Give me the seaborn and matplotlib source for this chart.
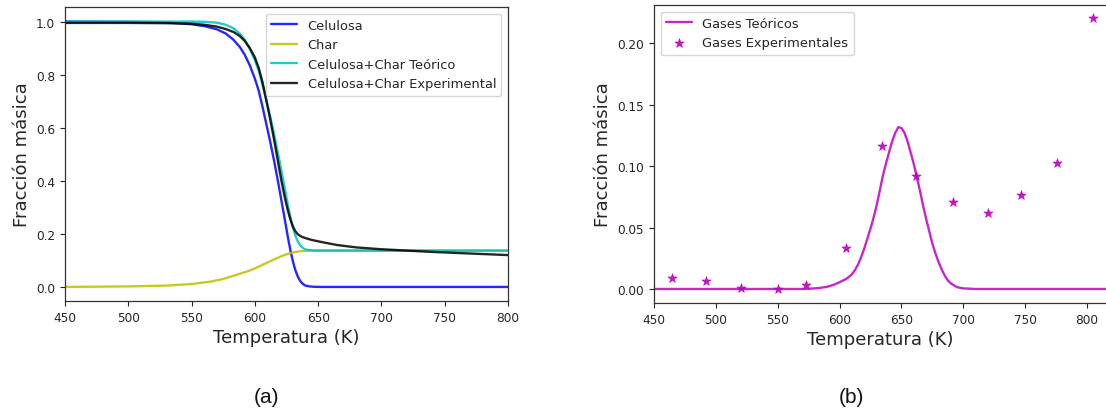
import matplotlib
matplotlib.use("Agg")
import matplotlib.pyplot as plt
import seaborn as sns

sns.set_theme(style="ticks")
plt.rcParams['font.family'] = ['DejaVu Sans']

# ---------------- data ----------------
# Panel (a)
T_cel = [450, 500, 530, 550, 560, 570, 577, 583, 588, 592, 596, 600, 603, 606, 609,
         612, 615, 618, 621, 624, 626, 628, 630, 632, 634, 636, 638, 640, 643, 647,
         652, 800]
celulosa = [1.0, 0.999, 0.997, 0.99, 0.983, 0.971, 0.955, 0.932, 0.905, 0.875, 0.835,
            0.785, 0.74, 0.68, 0.615, 0.55, 0.48, 0.405, 0.325, 0.245, 0.19, 0.14,
            0.097, 0.063, 0.038, 0.021, 0.011, 0.005, 0.002, 0.0005, 0.0, 0.0]

T_char = [450, 500, 530, 550, 565, 575, 585, 595, 600, 605, 610, 615, 620, 625,
          630, 635, 640, 645, 800]
char = [0.0, 0.002, 0.005, 0.011, 0.02, 0.030, 0.045, 0.060, 0.070, 0.081, 0.092,
        0.103, 0.114, 0.123, 0.130, 0.134, 0.136, 0.137, 0.137]

T_teo = [450, 530, 550, 560, 570, 577, 583, 588, 592, 596, 600, 603, 606, 609, 612,
         615, 618, 621, 624, 626, 628, 630, 632, 634, 636, 638, 640, 643, 647, 800]
teorico = [1.0, 1.0, 1.0, 0.999, 0.996, 0.988, 0.975, 0.955, 0.932, 0.898, 0.855,
           0.816, 0.763, 0.705, 0.645, 0.58, 0.51, 0.436, 0.362, 0.31, 0.265, 0.225,
           0.193, 0.171, 0.156, 0.147, 0.141, 0.139, 0.137, 0.137]

T_exp = [450, 500, 530, 550, 560, 570, 577, 583, 588, 592, 596, 600, 603, 606, 609,
         612, 615, 618, 621, 624, 626, 628, 630, 632, 634, 637, 640, 645, 650, 655,
         665, 680, 700, 720, 740, 760, 780, 800]
experimental = [0.995, 0.995, 0.994, 0.992, 0.988, 0.981, 0.972, 0.961, 0.946, 0.927,
                0.9, 0.865, 0.826, 0.772, 0.705, 0.635, 0.56, 0.48, 0.40, 0.33, 0.29,
                0.255, 0.228, 0.21, 0.198, 0.189, 0.184, 0.177, 0.172, 0.167, 0.158,
                0.149, 0.142, 0.137, 0.132, 0.128, 0.124, 0.12]

# Panel (b)
T_gas = [450, 570, 580, 585, 590, 595, 600, 602.5, 605, 607.5, 610, 612.5, 615, 617.5,
         620, 622.5, 625, 627.5, 630, 632.5, 635, 637.5, 640, 642.5, 645, 647.5, 650,
         652.5, 655, 657.5, 660, 662.5, 665, 667.5, 670, 672.5, 675, 677.5, 680,
         682.5, 685, 687.5, 690, 695, 700, 710, 830]
gases_teo = [0.0, 0.0, 0.0005, 0.001, 0.0018, 0.0033, 0.0055, 0.0068, 0.008, 0.0098,
             0.012, 0.0155, 0.020, 0.026, 0.033, 0.041, 0.049, 0.058, 0.068, 0.080,
             0.092, 0.102, 0.111, 0.120, 0.127, 0.1316, 0.131, 0.127, 0.120, 0.111,
             0.1017, 0.091, 0.080, 0.068, 0.057, 0.047, 0.037, 0.029, 0.022, 0.016,
             0.011, 0.007, 0.0045, 0.0015, 0.0005, 0.0, 0.0]

T_gas_exp = [464.5, 492, 520, 550, 573, 605, 634, 662, 691.5, 720, 747, 775.5, 805]
gases_exp = [0.0087, 0.0062, 0.001, 0.0, 0.003, 0.033, 0.1167, 0.0923, 0.0711,
             0.0621, 0.0765, 0.1023, 0.2206]

labels_a = ["Celulosa", "Char", "Celulosa+Char Teórico", "Celulosa+Char Experimental"]
labels_b = ["Gases Teóricos", "Gases Experimentales"]
xticks = [450, 500, 550, 600, 650, 700, 750, 800]

# ---------------- figure ----------------
W, H = 1106, 414
fig = plt.figure(figsize=(W / 100, H / 100), dpi=100)
fig.patch.set_facecolor("white")

axA = fig.add_axes([65 / W, 1 - 302 / H, 443 / W, 294 / H])
axB = fig.add_axes([654 / W, 1 - 304 / H, 452 / W, 298 / H])

lw = 1.7
al = 0.85
C_BLUE, C_YEL, C_CYAN, C_BLK, C_MAG = "#0000ff", "#bfbf00", "#00bfbf", "#000000", "#bf00bf"

sns.lineplot(x=T_cel, y=celulosa, ax=axA, color=C_BLUE, lw=lw, alpha=al, label=labels_a[0], sort=False)
sns.lineplot(x=T_char, y=char, ax=axA, color=C_YEL, lw=lw, alpha=al, label=labels_a[1], sort=False)
sns.lineplot(x=T_teo, y=teorico, ax=axA, color=C_CYAN, lw=lw, alpha=al, label=labels_a[2], sort=False)
sns.lineplot(x=T_exp, y=experimental, ax=axA, color=C_BLK, lw=lw, alpha=al, label=labels_a[3], sort=False)

axA.set_xlim(450, 800)
axA.set_ylim(-0.053, 1.055)
axA.set_xticks(xticks)
axA.set_yticks([0.0, 0.2, 0.4, 0.6, 0.8, 1.0])
axA.set_yticklabels(["0.0", "0.2", "0.4", "0.6", "0.8", "1.0"])

sns.lineplot(x=T_gas, y=gases_teo, ax=axB, color=C_MAG, lw=lw, alpha=al, label=labels_b[0], sort=False)
sns.scatterplot(x=T_gas_exp, y=gases_exp, ax=axB, color=C_MAG, marker="*", s=48,
                edgecolor=C_MAG, linewidth=0.5, alpha=0.9, label=labels_b[1], zorder=3)
axB.set_xlim(450, 815.4)
axB.set_ylim(-0.0114, 0.231)
axB.set_xticks(xticks)
axB.set_yticks([0.0, 0.05, 0.10, 0.15, 0.20])
axB.set_yticklabels(["0.00", "0.05", "0.10", "0.15", "0.20"])
axB.spines["right"].set_visible(False)

for ax in (axA, axB):
    ax.tick_params(labelsize=8.7, colors="#262626", length=3.5, width=0.8)
    for s in ax.spines.values():
        s.set_color("#333333")
        s.set_linewidth(0.9)
    ax.set_xlabel("Temperatura (K)", fontsize=13, color="#262626", labelpad=3)
    ax.set_ylabel("Fracción másica", fontsize=13, color="#262626", labelpad=4)

axA.legend(loc="upper right", fontsize=9.4, frameon=True, framealpha=0.8,
           edgecolor="#cccccc", fancybox=True, handlelength=2.0, borderaxespad=0.5)
axB.legend(loc="upper left", fontsize=9.4, frameon=True, framealpha=0.8,
           edgecolor="#cccccc", fancybox=True, handlelength=2.0, borderaxespad=0.5)

fig.text(266.7 / W, 1 - 398 / H, "(a)", fontsize=15, ha="center", va="center",
         family=["Liberation Sans", "DejaVu Sans"], color="#111111")
fig.text(851.7 / W, 1 - 398 / H, "(b)", fontsize=15, ha="center", va="center",
         family=["Liberation Sans", "DejaVu Sans"], color="#111111")

fig.savefig("out.png", dpi=100, facecolor="white")
